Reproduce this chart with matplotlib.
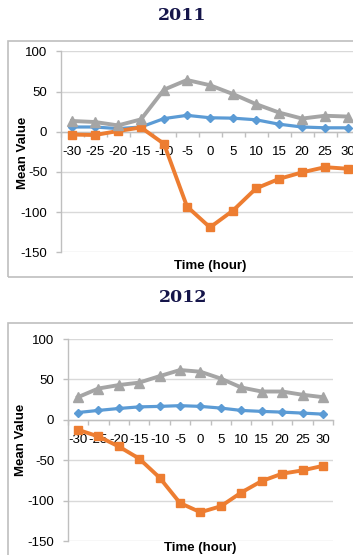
import matplotlib
matplotlib.use("Agg")
import matplotlib.pyplot as plt
from matplotlib.patches import Rectangle

plt.rcParams['font.family'] = ['Liberation Sans', 'DejaVu Sans']

hours = [-30, -25, -20, -15, -10, -5, 0, 5, 10, 15, 20, 25, 30]
yticks = [100, 50, 0, -50, -100, -150]

blue_2011 = [6, 6, 4, 6, 16.5, 20.5, 17.5, 17, 15, 9.5, 6, 5, 5]
orange_2011 = [-3.4, -4, 1, 5.4, -15, -93, -119, -98, -70.5, -58.6, -50.5, -44, -46]
gray_2011 = [13.5, 12.2, 8, 15.5, 52.5, 64.5, 58, 47, 34.5, 24, 16.5, 20, 19]

blue_2012 = [9, 11.6, 14, 16, 16.6, 17.5, 16.6, 14.5, 11.6, 10.4, 9.5, 8.3, 7]
orange_2012 = [-12.3, -20.6, -33, -48, -71.6, -103, -114.4, -107, -90, -75.8, -66.7, -62.6, -57]
gray_2012 = [28, 38.7, 43, 46, 54, 61.6, 59.5, 51, 40, 35, 35, 31, 28]

W, H = 353, 555
fig = plt.figure(figsize=(W / 100, H / 100), dpi=100)

BLUE = '#5B9BD5'
ORANGE = '#ED7D31'
GRAY = '#A5A5A5'
GRID = '#D9D9D9'
AXC = '#BFBFBF'
NAVY = '#15154a'


def fx(px):
    return px / W


def fy(py):
    return 1 - py / H


def make_chart(left, top, bottom, cat_w, blue, orange, gray):
    n = len(hours)
    ax = fig.add_axes([fx(left), fy(bottom), (n * cat_w) / W, (bottom - top) / H])
    ax.set_facecolor('none')
    x = list(range(n))
    ax.plot(x, blue, color=BLUE, lw=2.3, marker='D', ms=4.2, zorder=3, clip_on=False)
    ax.plot(x, orange, color=ORANGE, lw=2.8, marker='s', ms=6.0, zorder=4, clip_on=False)
    ax.plot(x, gray, color=GRAY, lw=2.8, marker='^', ms=6.5, zorder=5, clip_on=False)
    ax.set_xlim(-0.5, n - 0.5)
    ax.set_ylim(-150, 100)
    ax.set_yticks(yticks)
    ax.set_yticklabels([str(v) for v in yticks])
    ax.yaxis.grid(True, color=GRID, lw=1.0, zorder=0)
    ax.set_axisbelow(True)
    for s in ['top', 'right']:
        ax.spines[s].set_visible(False)
    ax.spines['left'].set_color(AXC)
    ax.spines['left'].set_linewidth(1.0)
    ax.spines['bottom'].set_position(('data', 0))
    ax.spines['bottom'].set_color(AXC)
    ax.spines['bottom'].set_linewidth(1.0)
    ax.set_xticks(x)
    ax.set_xticklabels([str(h) for h in hours])
    ax.set_xticks([i - 0.5 for i in range(n + 1)], minor=True)
    ax.tick_params(axis='x', which='major', length=0, pad=10.5, labelsize=9.5, colors='black')
    ax.tick_params(axis='x', which='minor', length=3.6, width=1.0, color=AXC, direction='out')
    ax.tick_params(axis='y', which='major', length=3.6, width=1.0, color=AXC, pad=6.0,
                   labelsize=9.5, labelcolor='black')
    return ax


# chart 1 (2011)
fig.add_artist(Rectangle((fx(8.3), fy(277)), fx(400), (277 - 41) / H, transform=fig.transFigure,
                         fill=False, edgecolor='#BFBFBF', lw=1.2, clip_on=False))
make_chart(60.5, 51.5, 252.3, 23.0, blue_2011, orange_2011, gray_2011)
fig.text(fx(182), fy(16), '2011', ha='center', va='center', family='DejaVu Serif',
         weight='bold', size=12.5, color=NAVY)
fig.text(fx(23.5), fy(152.5), 'Mean Value', rotation=90, ha='center', va='center',
         weight='bold', size=9.5)
fig.text(fx(210), fy(266), 'Time (hour)', ha='center', va='center', weight='bold', size=9.5)

# chart 2 (2012)
fig.add_artist(Rectangle((fx(8.3), fy(600)), fx(400), (600 - 323) / H, transform=fig.transFigure,
                         fill=False, edgecolor='#BFBFBF', lw=1.2, clip_on=False))
make_chart(67.7, 339, 541, 20.42, blue_2012, orange_2012, gray_2012)
fig.text(fx(183), fy(297), '2012', ha='center', va='center', family='DejaVu Serif',
         weight='bold', size=12.5, color=NAVY)
fig.text(fx(21), fy(440), 'Mean Value', rotation=90, ha='center', va='center',
         weight='bold', size=9.5)
fig.text(fx(200), fy(548), 'Time (hour)', ha='center', va='center', weight='bold', size=9.5)

fig.savefig('out.png', dpi=100)
